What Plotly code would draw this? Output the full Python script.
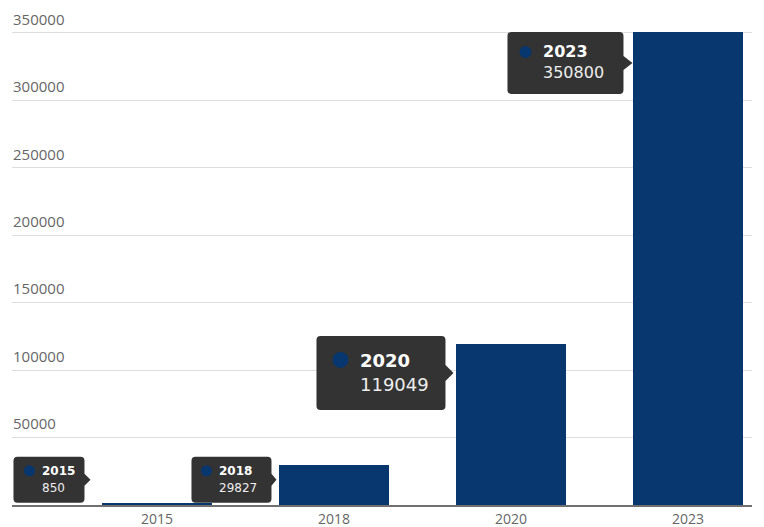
import plotly.graph_objects as go

# ---- data ----
years = ["2015", "2018", "2020", "2023"]
values = [850, 29827, 119049, 350800]
y_ticks = [50000, 100000, 150000, 200000, 250000, 300000, 350000]
y_tick_labels = ["50000", "100000", "150000", "200000", "250000", "300000", "350000"]

# ---- styles ----
BAR_COLOR = "#08366f"
TIP_BG = "#333333"
BW = 0.616
# tooltip geometry (pixels)
tip_gap = [12, 3, 3, 1]
tip_dy = [24, -15, -28.5, -31]
box_w = [71, 80, 129, 116]
box_h = [46, 46, 74, 62]
arrow_len = [6, 5, 8, 9]
arrow_half = [6, 6, 8, 7]
font_sz = [12, 12, 18, 16]
dot_r = [5.5, 5.5, 8, 6]
dot_dx = [16, 15, 24, 18]
dot_dy = [14, 14, 24, 20]
text_dx = [27, 26, 42, 34]
year_dy = [14, 14, 25, 20]
val_dy = [31, 31, 49, 41]

idx = list(range(len(years)))

fig = go.Figure()
fig.add_trace(go.Bar(x=idx, y=values, width=BW, marker=dict(color=BAR_COLOR, line=dict(width=0)),
                     hoverinfo="skip"))

shapes = []
annotations = []
for i, (yr, v) in enumerate(zip(years, values)):
    ax = i - BW / 2
    tx = -tip_gap[i]
    ty = tip_dy[i]
    xr = tx - arrow_len[i]
    xl = xr - box_w[i]
    yt = ty + box_h[i] / 2
    yb = ty - box_h[i] / 2
    r = 4
    ah = arrow_half[i]
    path = (f"M{xl + r},{yt} L{xr - r},{yt} Q{xr},{yt} {xr},{yt - r} "
            f"L{xr},{ty + ah} L{tx},{ty} L{xr},{ty - ah} L{xr},{yb + r} "
            f"Q{xr},{yb} {xr - r},{yb} L{xl + r},{yb} Q{xl},{yb} {xl},{yb + r} "
            f"L{xl},{yt - r} Q{xl},{yt} {xl + r},{yt} Z")
    shapes.append(dict(type="path", xref="x", yref="y", xsizemode="pixel", ysizemode="pixel",
                       xanchor=ax, yanchor=v, path=path, fillcolor=TIP_BG,
                       line=dict(width=0), layer="above"))
    cx = xl + dot_dx[i]
    cy = yt - dot_dy[i]
    rr = dot_r[i]
    shapes.append(dict(type="circle", xref="x", yref="y", xsizemode="pixel", ysizemode="pixel",
                       xanchor=ax, yanchor=v, x0=cx - rr, x1=cx + rr, y0=cy - rr, y1=cy + rr,
                       fillcolor=BAR_COLOR, line=dict(width=0), layer="above"))
    annotations.append(dict(x=ax, y=v, xref="x", yref="y", xshift=xl + text_dx[i],
                            yshift=yt - year_dy[i], xanchor="left", yanchor="middle",
                            showarrow=False, text=f"<b>{yr}</b>",
                            font=dict(family="DejaVu Sans", size=font_sz[i], color="#ffffff")))
    annotations.append(dict(x=ax, y=v, xref="x", yref="y", xshift=xl + text_dx[i],
                            yshift=yt - val_dy[i], xanchor="left", yanchor="middle",
                            showarrow=False, text=f"{v}",
                            font=dict(family="DejaVu Sans", size=font_sz[i], color="#eeeeee")))

fig.update_layout(
    width=764, height=527,
    margin=dict(l=12, r=12, t=5, b=22),
    paper_bgcolor="white", plot_bgcolor="white",
    showlegend=False,
    shapes=shapes, annotations=annotations,
    bargap=0,
    xaxis=dict(range=[-0.8192, 3.3616], tickmode="array", tickvals=idx, ticktext=years,
               showgrid=False, zeroline=False, showline=True, linecolor="#707070", linewidth=1.5,
               ticks="", automargin=False,
               tickfont=dict(family="Open Sans", size=14, color="#666666")),
    yaxis=dict(range=[0, 370750], tickmode="array", tickvals=y_ticks, ticktext=y_tick_labels,
               showgrid=True, gridcolor="#dddddd", gridwidth=1, zeroline=False, showline=False,
               ticks="", ticklabelposition="inside top", ticklabelshift=-3, ticklabelstandoff=-2,
               automargin=False,
               tickfont=dict(family="Open Sans", size=15, color="#666666")),
)

fig.write_html("out.html")
